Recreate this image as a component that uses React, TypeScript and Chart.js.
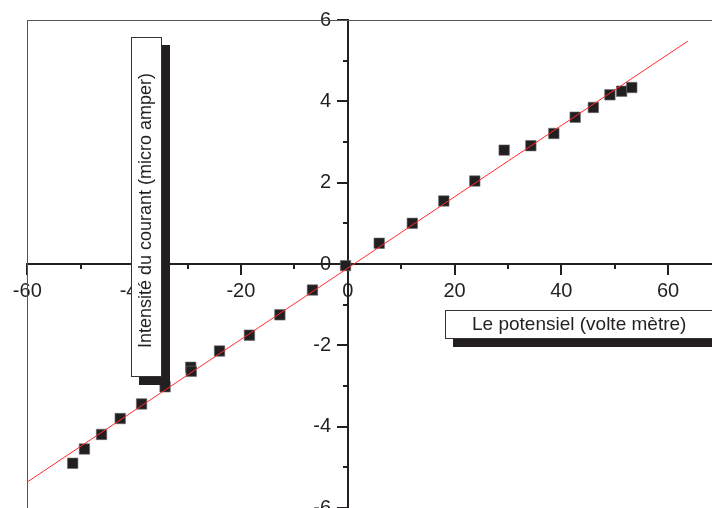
import { useEffect, useRef } from "react";
import { Chart, registerables } from "chart.js";

Chart.register(...registerables);

// Measured data (potential in volts, current in micro-amperes)
const voltage = [-51.5, -49.3, -46.1, -42.6, -38.6, -34.2, -29.4, -29.3, -24.0, -18.4, -12.7, -6.6, -0.4, 5.9, 12.1, 18.0, 23.8, 29.3, 34.3, 38.6, 42.6, 46.0, 49.1, 51.3, 53.2];
const current = [-4.9, -4.55, -4.19, -3.8, -3.44, -3.02, -2.54, -2.64, -2.14, -1.75, -1.25, -0.64, -0.04, 0.51, 1.0, 1.55, 2.04, 2.8, 2.91, 3.21, 3.61, 3.85, 4.16, 4.25, 4.34];

// Linear fit end points
const fitVoltage = [-60, 63.7];
const fitCurrent = [-5.36, 5.48];

const xTitle = "Le potensiel (volte mètre)";
const yTitle = "Intensité du courant (micro amper)";

const INK = "#231f20";
const FONT = '"Liberation Sans", Arial, Helvetica, sans-serif';

const framePlugin = {
  id: "frame",
  beforeDatasetsDraw(chart: any) {
    const { ctx, chartArea: a } = chart;
    ctx.save();
    ctx.strokeStyle = "#555555";
    ctx.lineWidth = 1;
    ctx.strokeRect(Math.round(a.left) + 0.5, Math.round(a.top) + 0.5, a.right - a.left, a.bottom - a.top);
    ctx.restore();
  },
};

function drawShadowBox(ctx: CanvasRenderingContext2D, x: number, y: number, w: number, h: number, dx: number, dy: number) {
  ctx.fillStyle = INK;
  ctx.fillRect(x + dx, y + dy, w, h);
  ctx.fillStyle = "#ffffff";
  ctx.fillRect(x, y, w, h);
  ctx.strokeStyle = "#333333";
  ctx.lineWidth = 1;
  ctx.strokeRect(x + 0.5, y + 0.5, w - 1, h - 1);
}

const titlesPlugin = {
  id: "titles",
  afterDraw(chart: any) {
    const ctx: CanvasRenderingContext2D = chart.ctx;
    ctx.save();
    // Y title box
    drawShadowBox(ctx, 131, 37, 31, 340, 8, 8);
    ctx.save();
    ctx.translate(146.5, 210.5);
    ctx.rotate(-Math.PI / 2);
    ctx.fillStyle = INK;
    ctx.font = `18px ${FONT}`;
    ctx.textAlign = "center";
    ctx.textBaseline = "middle";
    ctx.fillText(yTitle, 0, 0);
    ctx.restore();
    // X title box
    drawShadowBox(ctx, 445, 310, 300, 29, 8, 8);
    ctx.fillStyle = INK;
    ctx.font = `19px ${FONT}`;
    ctx.textAlign = "left";
    ctx.textBaseline = "middle";
    ctx.fillText(xTitle, 472, 325);
    ctx.restore();
  },
};

export default function App() {
  const ref = useRef<HTMLCanvasElement>(null);

  useEffect(() => {
    if (!ref.current) return;
    const chart = new Chart(ref.current, {
      type: "scatter",
      data: {
        datasets: [
          {
            type: "line",
            label: "fit",
            data: fitVoltage.map((v, i) => ({ x: v, y: fitCurrent[i] })),
            borderColor: "#ff2b2b",
            borderWidth: 1,
            pointRadius: 0,
            fill: false,
            order: 0,
          } as any,
          {
            label: "mesures",
            data: voltage.map((v, i) => ({ x: v, y: current[i] })),
            pointStyle: "rect",
            pointRadius: 7.4,
            backgroundColor: INK,
            borderColor: "#6b6b6b",
            borderWidth: 0.6,
            order: 1,
          },
        ],
      },
      options: {
        animation: false,
        responsive: false,
        devicePixelRatio: 1,
        layout: { padding: { left: 27.3, top: 20, right: 38.5, bottom: 32 } },
        plugins: { legend: { display: false }, tooltip: { enabled: false } },
        scales: {
          x: {
            type: "linear",
            min: -60,
            max: 70,
            position: { y: 0 } as any,
            ticks: { stepSize: 20, includeBounds: false, color: INK, padding: 5, font: { family: FONT, size: 20 } },
            grid: { drawOnChartArea: false, tickLength: 10, lineWidth: 2, color: INK },
            border: { color: INK, width: 2 },
          },
          x2: {
            type: "linear",
            axis: "x",
            min: -60,
            max: 70,
            position: { y: 0 },
            ticks: { stepSize: 10, includeBounds: false, display: false },
            grid: { drawOnChartArea: false, tickLength: 5, lineWidth: 2, color: INK },
            border: { display: false },
          } as any,
          y: {
            type: "linear",
            min: -6,
            max: 6,
            position: { x: 0 } as any,
            ticks: { stepSize: 2, includeBounds: false, display: false },
            grid: { drawOnChartArea: false, tickLength: 10, lineWidth: 2, color: INK },
            border: { color: INK, width: 2 },
          },
          y2: {
            type: "linear",
            axis: "y",
            min: -6,
            max: 6,
            position: { x: 0 },
            ticks: { stepSize: 1, includeBounds: false, display: false },
            grid: { drawOnChartArea: false, tickLength: 5, lineWidth: 2, color: INK },
            border: { display: false },
          } as any,
          yLabels: {
            type: "linear",
            axis: "y",
            min: -6,
            max: 6,
            position: { x: -3.1 },
            ticks: { stepSize: 2, includeBounds: false, color: INK, font: { family: FONT, size: 20 } },
            grid: { display: false, drawTicks: false },
            border: { display: false },
          } as any,
        },
      },
      plugins: [framePlugin, titlesPlugin],
    });
    return () => chart.destroy();
  }, []);

  return (
    <div style={{ position: "absolute", left: 0, top: 0, width: 712, height: 508, overflow: "hidden", background: "#ffffff" }}>
      <canvas ref={ref} width={760} height={540} style={{ display: "block" }} />
    </div>
  );
}
